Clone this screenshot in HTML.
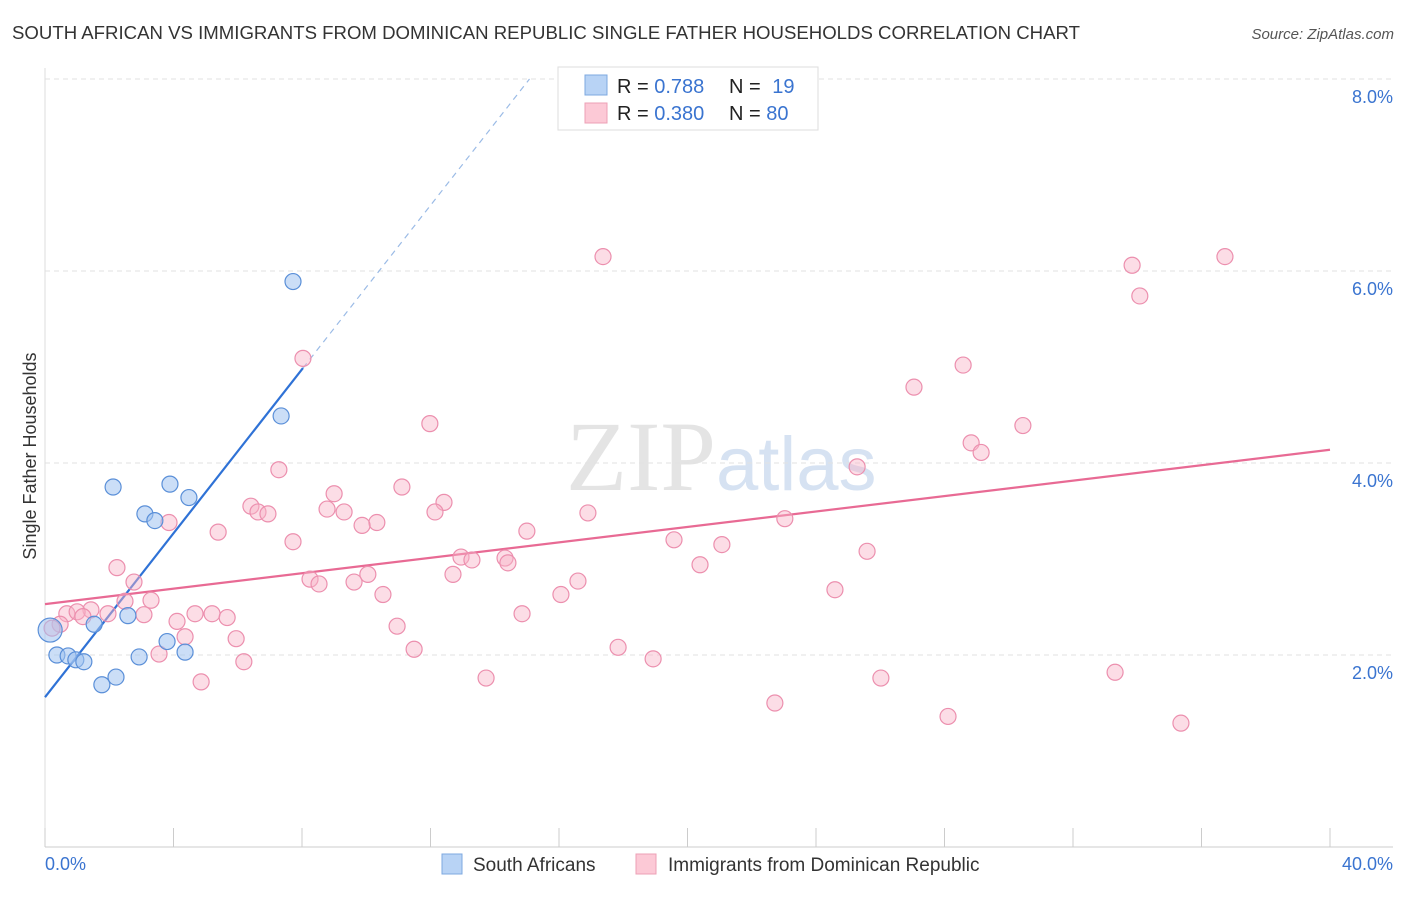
<!DOCTYPE html>
<html><head><meta charset="utf-8"><style>
body{margin:0;background:#fff;width:1406px;height:892px;overflow:hidden;font-family:"Liberation Sans",sans-serif}
</style></head><body>
<svg id="c" width="1406" height="892" xmlns="http://www.w3.org/2000/svg" font-family="Liberation Sans, sans-serif">
<text x="12" y="39" font-size="18" fill="#333" textLength="1068" lengthAdjust="spacingAndGlyphs">SOUTH AFRICAN VS IMMIGRANTS FROM DOMINICAN REPUBLIC SINGLE FATHER HOUSEHOLDS CORRELATION CHART</text>
<text x="1394" y="39" font-size="15" fill="#555" text-anchor="end" font-style="italic">Source: ZipAtlas.com</text>
<text x="716" y="490" font-size="100" fill="#e4e4e4" text-anchor="end" font-family="Liberation Serif, serif">ZIP</text>
<text x="716" y="490" font-size="76" fill="#d6e2f2">atlas</text>
<g id="grid"></g><g id="axes"></g><g id="lines"></g><g id="pts"></g>
<text x="36" y="456" font-size="18" fill="#333" text-anchor="middle" transform="rotate(-90 36 456)">Single Father Households</text>
<g>
<rect x="558" y="67" width="260" height="63" fill="#fff" stroke="#ddd"/>
<rect x="585" y="75" width="22" height="20" fill="#b8d3f5" stroke="#7ea8e0"/>
<rect x="585" y="103" width="22" height="20" fill="#fcc9d6" stroke="#eda0b6"/>
<text x="617" y="93" font-size="20" fill="#222">R = <tspan fill="#3a74d0">0.788</tspan></text>
<text x="729" y="93" font-size="20" fill="#222">N = <tspan fill="#3a74d0" dx="6">19</tspan></text>
<text x="617" y="120" font-size="20" fill="#222">R = <tspan fill="#3a74d0">0.380</tspan></text>
<text x="729" y="120" font-size="20" fill="#222">N = <tspan fill="#3a74d0">80</tspan></text>
</g>
<g>
<rect x="442" y="854" width="20" height="20" fill="#b8d3f5" stroke="#7ea8e0"/>
<text x="473" y="871" font-size="19" fill="#333">South Africans</text>
<rect x="636" y="854" width="20" height="20" fill="#fcc9d6" stroke="#eda0b6"/>
<text x="668" y="871" font-size="19" fill="#333">Immigrants from Dominican Republic</text>
</g>
</svg>
<script>
const blueX=[7.72,7.35,2.12,3.89,3.11,3.42,4.48,2.58,1.53,3.80,4.36,2.93,0.37,0.72,0.96,1.21,1.77,2.21,0.16];
const blueY=[5.89,4.49,3.75,3.78,3.47,3.40,3.64,2.41,2.32,2.14,2.03,1.98,2.00,1.99,1.95,1.93,1.69,1.77,2.26];
const pinkX=[17.37,33.84,36.73,34.08,8.03,28.58,27.05,11.98,30.44,28.83,29.14,25.28,7.28,11.11,9.00,12.42,6.41,6.63,6.94,8.78,9.31,12.14,16.90,23.03,3.86,10.33,9.87,5.39,15.00,19.58,7.72,21.07,25.59,12.95,13.29,14.32,14.41,20.39,2.24,10.05,12.70,8.25,8.53,9.62,16.59,2.77,24.59,10.52,16.06,2.49,3.30,1.43,0.68,1.00,1.18,1.96,3.08,4.67,5.20,5.67,14.85,4.11,0.47,10.96,0.22,5.95,4.36,17.84,11.49,3.55,18.93,6.19,33.31,13.73,26.02,4.86,22.72,28.11,35.36];
const pinkY=[6.15,6.06,6.15,5.74,5.09,5.02,4.79,4.41,4.39,4.21,4.11,3.96,3.93,3.75,3.68,3.59,3.55,3.49,3.47,3.52,3.49,3.49,3.48,3.42,3.38,3.38,3.35,3.28,3.29,3.20,3.18,3.15,3.08,3.02,2.99,3.01,2.96,2.94,2.91,2.84,2.84,2.79,2.74,2.76,2.77,2.76,2.68,2.63,2.63,2.56,2.57,2.47,2.43,2.45,2.40,2.43,2.42,2.43,2.43,2.39,2.43,2.35,2.32,2.30,2.28,2.17,2.19,2.08,2.06,2.01,1.96,1.93,1.82,1.76,1.76,1.72,1.50,1.36,1.29];
const blueFit=[1.56,0.427];
const pinkFit=[2.53,0.0402];
const yTicks=[2,4,6,8];
const xTickVals=[0,4,8,12,16,20,24,28,32,36,40];
const NS='http://www.w3.org/2000/svg';
const sx=v=>45+v*32.125, sy=v=>847-v*96;
function mk(p,t,a){const e=document.createElementNS(NS,t);for(const k in a)e.setAttribute(k,a[k]);document.getElementById(p).appendChild(e);return e;}
yTicks.forEach(t=>{
 const l=mk('grid','line',{x1:45,x2:1393,y1:sy(t),y2:sy(t),stroke:'#e2e2e2','stroke-dasharray':'5,4'});
 
 
 const tx=mk('grid','text',{x:1393,y:sy(t)+24,'font-size':18,fill:'#3a74d0','text-anchor':'end'});
 tx.textContent=t.toFixed(1)+'%';
 
 
});
let a=mk('axes','line',{x1:45,x2:1393,y1:847,y2:847,stroke:'#ccc'});


a=mk('axes','line',{x1:45,x2:45,y1:68,y2:847,stroke:'#ddd'});


xTickVals.forEach(t=>{const l=mk('axes','line',{x1:sx(t),x2:sx(t),y1:828,y2:847,stroke:'#ccc'});
 
 });
[[0,'start'],[40,'end']].forEach(([t,an])=>{const tx=mk('axes','text',{x:t?1393:45,y:870,'font-size':18,fill:'#3a74d0','text-anchor':an});tx.textContent=t.toFixed(1)+'%';
 
 });
const fb=x=>blueFit[0]+blueFit[1]*x, fp=x=>pinkFit[0]+pinkFit[1]*x;
let xe=(8-blueFit[0])/blueFit[1];
let l=mk('lines','line',{x1:sx(8.03),y1:sy(fb(8.03)),x2:sx(xe),y2:sy(8),stroke:'#9bbbe6','stroke-width':1.2,'stroke-dasharray':'6,5'});


l=mk('lines','line',{x1:sx(0),y1:sy(fb(0)),x2:sx(8.03),y2:sy(fb(8.03)),stroke:'#2f72d6','stroke-width':2.2});


l=mk('lines','line',{x1:sx(0),y1:sy(fp(0)),x2:sx(40),y2:sy(fp(40)),stroke:'#e86a94','stroke-width':2.2});


pinkX.forEach((x,i)=>{const c=mk('pts','circle',{cx:sx(x),cy:sy(pinkY[i]),r:8,fill:'rgba(248,180,200,0.45)',stroke:'#ec8fae','stroke-width':1.2});
 
 });
blueX.forEach((x,i)=>{const c=mk('pts','circle',{cx:sx(x),cy:sy(blueY[i]),r:i==18?12:8,fill:'rgba(160,195,240,0.55)',stroke:'#5a8fd8','stroke-width':1.2});
 
 });
</script>
</body></html>
